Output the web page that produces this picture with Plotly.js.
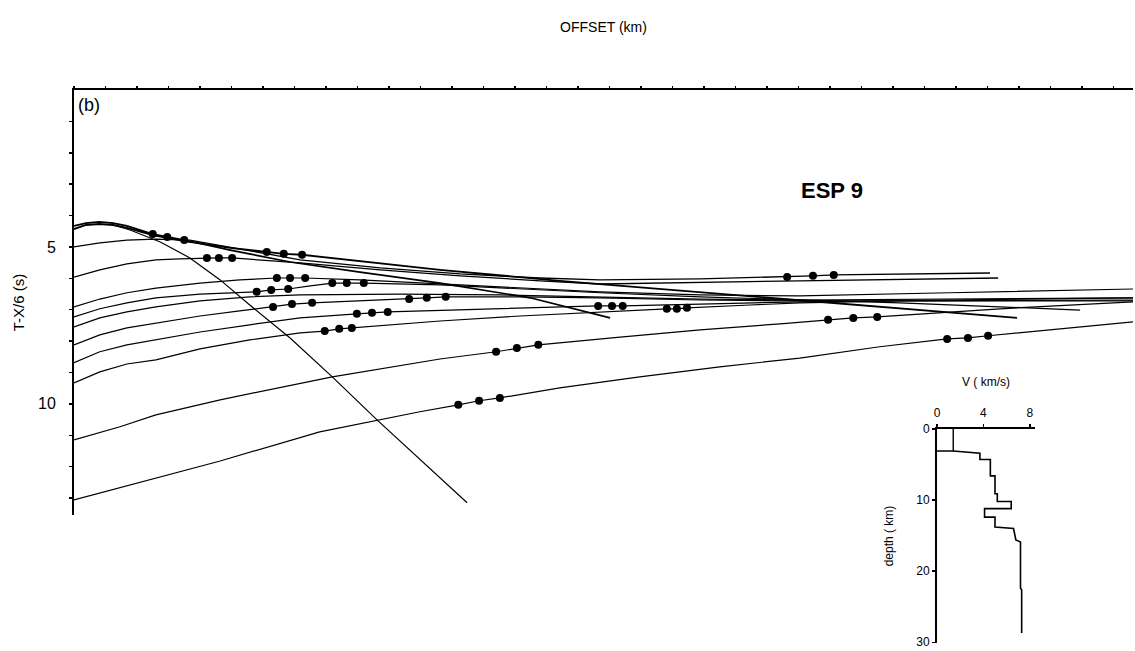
<!DOCTYPE html>
<html>
<head>
<meta charset="utf-8">
<script src="https://cdn.plot.ly/plotly-3.0.1.min.js"></script>
<style>html,body{margin:0;padding:0;background:#fff;}#chart{width:1135px;height:651px;}</style>
</head>
<body>
<div id="chart"></div>
<script>
// ---- Travel-time curves: offset (km) and reduced time T-X/6 (s) ----
const directX = [5.7, 8.9, 13.7, 18.4, 23.2, 27.9, 34.3, 41.0, 48.1, 62.4];
const directT = [4.27, 4.46, 4.84, 5.35, 6.05, 6.85, 7.90, 9.14, 10.51, 13.15];

const humpAX = [0, 1.9, 4.0, 6.2, 8.4, 10.5, 12.5, 14.8, 17.5, 24.8, 34.3, 45.4, 58.1, 72.4, 85.1];
const humpAT = [4.33, 4.24, 4.20, 4.24, 4.33, 4.46, 4.59, 4.68, 4.78, 5.10, 5.48, 5.80, 6.15, 6.62, 7.26];

const humpBX = [0, 1.9, 4.0, 6.2, 8.4, 10.5, 12.5, 14.8, 17.5, 24.8, 30.6, 33.3, 36.2, 47.0, 58.1, 77.1, 100.5, 124.8, 149.7];
const humpBT = [4.43, 4.30, 4.27, 4.30, 4.39, 4.52, 4.62, 4.71, 4.81, 5.03, 5.16, 5.22, 5.25, 5.48, 5.73, 6.08, 6.46, 6.85, 7.26];

const refl1X = [0, 4.1, 8.4, 13.0, 18.4, 26.3, 35.9, 48.6, 61.3, 74.0, 83.5, 99.4, 113.2, 117.3, 120.6, 145.4];
const refl1T = [5.00, 4.87, 4.78, 4.75, 4.78, 5.06, 5.41, 5.67, 5.86, 5.99, 6.05, 6.02, 5.96, 5.92, 5.89, 5.83];

const refl2X = [0, 4.1, 8.4, 13.0, 16.8, 21.1, 23.0, 25.1, 29.5, 35.9, 48.6, 61.3, 74.0, 83.5, 115.2, 146.7];
const refl2T = [5.96, 5.73, 5.54, 5.41, 5.38, 5.35, 5.35, 5.35, 5.41, 5.51, 5.73, 5.92, 6.08, 6.18, 6.08, 5.99];

const refl3X = [0, 4.1, 8.4, 13.0, 20.0, 26.3, 32.2, 34.3, 36.7, 45.4, 58.1, 70.8, 83.5, 99.4, 115.2, 139.0, 168.1];
const refl3T = [6.91, 6.66, 6.46, 6.31, 6.15, 6.05, 5.99, 5.99, 5.99, 6.05, 6.18, 6.31, 6.43, 6.53, 6.56, 6.46, 6.34];

const refl4X = [0, 4.1, 8.4, 13.0, 20.0, 29.0, 31.3, 34.0, 37.5, 41.0, 43.3, 46.0, 58.1, 70.8, 83.5, 99.4, 115.2, 131.1, 159.7];
const refl4T = [7.23, 6.97, 6.78, 6.62, 6.50, 6.43, 6.37, 6.34, 6.24, 6.15, 6.15, 6.15, 6.21, 6.34, 6.46, 6.59, 6.69, 6.78, 7.01];

const refl5X = [0, 4.1, 8.4, 13.0, 20.0, 27.9, 35.9, 51.7, 67.6, 83.5, 99.4, 115.2, 139.0, 168.1];
const refl5T = [7.55, 7.26, 7.07, 6.91, 6.72, 6.59, 6.53, 6.50, 6.53, 6.59, 6.66, 6.69, 6.66, 6.62];

const refl6X = [0, 4.1, 8.4, 13.0, 20.0, 26.3, 31.6, 34.6, 37.8, 45.4, 53.2, 56.0, 59.0, 70.8, 83.5, 99.4, 115.2, 139.0, 168.1];
const refl6T = [8.12, 7.80, 7.58, 7.42, 7.20, 7.04, 6.91, 6.82, 6.78, 6.72, 6.66, 6.62, 6.59, 6.59, 6.62, 6.69, 6.72, 6.72, 6.72];

const refl7X = [0, 4.1, 8.4, 13.0, 20.0, 27.9, 35.9, 44.9, 47.3, 49.8, 59.7, 70.8, 83.2, 85.4, 87.1, 99.4, 115.2, 139.0, 168.1];
const refl7T = [8.69, 8.34, 8.12, 7.96, 7.71, 7.48, 7.26, 7.13, 7.10, 7.07, 7.01, 6.94, 6.88, 6.88, 6.88, 6.82, 6.75, 6.69, 6.62];

const refl8X = [0, 4.1, 8.4, 13.0, 20.0, 27.9, 35.9, 39.8, 42.1, 44.1, 58.1, 70.8, 83.5, 94.1, 95.7, 97.3, 107.3, 115.2, 131.1, 168.1];
const refl8T = [9.33, 8.98, 8.73, 8.60, 8.25, 7.96, 7.74, 7.68, 7.61, 7.58, 7.36, 7.20, 7.07, 6.97, 6.97, 6.94, 6.85, 6.78, 6.72, 6.69];

const refl9X = [0, 7.3, 13.0, 23.2, 41.0, 50.6, 58.1, 67.0, 70.3, 73.7, 86.7, 99.4, 112.1, 119.7, 123.7, 127.5, 147.0, 168.1];
const refl9T = [11.15, 10.73, 10.35, 9.87, 9.14, 8.82, 8.57, 8.34, 8.22, 8.12, 7.87, 7.64, 7.45, 7.32, 7.26, 7.23, 6.97, 6.75];

const refl10X = [0, 12.1, 23.2, 39.0, 48.1, 54.9, 61.0, 64.3, 67.6, 77.1, 89.8, 102.5, 115.2, 127.9, 138.6, 141.9, 145.1, 156.5, 168.1];
const refl10T = [13.06, 12.42, 11.82, 10.89, 10.51, 10.25, 10.03, 9.90, 9.81, 9.49, 9.14, 8.82, 8.54, 8.18, 7.93, 7.90, 7.83, 7.61, 7.39];

// ---- Observed picks (dots) ----
const pickX = [12.5, 14.8, 17.5, 30.6, 33.3, 36.2, 21.1, 23.0, 25.1, 32.2, 34.3, 36.7,
  41.0, 43.3, 46.0, 29.0, 31.3, 34.0, 31.6, 34.6, 37.8, 53.2, 56.0, 59.0,
  44.9, 47.3, 49.8, 39.8, 42.1, 44.1, 83.2, 85.4, 87.1, 94.1, 95.7, 97.3,
  113.2, 117.3, 120.6, 119.7, 123.7, 127.5, 138.6, 141.9, 145.1, 67.0, 70.3, 73.7,
  61.0, 64.3, 67.6];
const pickT = [4.59, 4.68, 4.78, 5.16, 5.22, 5.25, 5.35, 5.35, 5.35, 5.99, 5.99, 5.99,
  6.15, 6.15, 6.15, 6.43, 6.37, 6.34, 6.91, 6.82, 6.78, 6.66, 6.62, 6.59,
  7.13, 7.10, 7.07, 7.68, 7.61, 7.58, 6.88, 6.88, 6.88, 6.97, 6.97, 6.94,
  5.96, 5.92, 5.89, 7.32, 7.26, 7.23, 7.93, 7.90, 7.83, 8.34, 8.22, 8.12,
  10.03, 9.90, 9.81];

// ---- Axis ticks ----
const timeTicks = [1, 2, 3, 4, 5, 6, 7, 8, 9, 10, 11, 12, 13];
const timeTickText = ['', '', '', '', '5', '', '', '', '', '10', '', '', ''];
const velTicks = [0, 4, 8];
const depthTicks = [0, 10, 20, 30];

// ---- Inset velocity-depth model ----
const waterV = [0, 1.4, 1.4];
const waterDepth = [3.1, 3.1, 0];
const velV = [1.4, 3.7, 3.7, 4.6, 4.6, 5.0, 5.0, 5.2, 5.2, 6.4, 6.4, 4.1, 4.1, 5.0, 5.0, 6.6, 6.8, 7.2, 7.2, 7.3, 7.3];
const velDepth = [3.1, 3.4, 4.3, 4.3, 6.6, 6.6, 9.1, 9.1, 10.2, 10.2, 11.2, 11.2, 12.4, 12.4, 13.8, 14.0, 15.6, 15.9, 22.4, 22.6, 28.7];

const FONT = 'Liberation Sans, Arial, Helvetica, sans-serif';
function line(x, y, w) {
  return {x: x, y: y, type: 'scatter', mode: 'lines', xaxis: 'x', yaxis: 'y',
          line: {color: '#000', width: w}, hoverinfo: 'skip', showlegend: false};
}
const traces = [
  line(directX, directT, 1.2),
  line(humpAX, humpAT, 1.7),
  line(humpBX, humpBT, 1.9),
  line(refl1X, refl1T, 1.3),
  line(refl2X, refl2T, 1.3),
  line(refl3X, refl3T, 1.2),
  line(refl4X, refl4T, 1.2),
  line(refl5X, refl5T, 1.2),
  line(refl6X, refl6T, 1.2),
  line(refl7X, refl7T, 1.2),
  line(refl8X, refl8T, 1.2),
  line(refl9X, refl9T, 1.2),
  line(refl10X, refl10T, 1.2),
  {x: pickX, y: pickT, type: 'scatter', mode: 'markers', xaxis: 'x', yaxis: 'y',
   marker: {color: '#000', size: 8, symbol: 'circle'}, hoverinfo: 'skip', showlegend: false},
  {x: waterV, y: waterDepth, type: 'scatter', mode: 'lines', xaxis: 'x2', yaxis: 'y2',
   line: {color: '#000', width: 1.4}, hoverinfo: 'skip', showlegend: false},
  {x: velV, y: velDepth, type: 'scatter', mode: 'lines', xaxis: 'x2', yaxis: 'y2',
   line: {color: '#000', width: 1.6}, hoverinfo: 'skip', showlegend: false}
];

const W = 1135, H = 651;
const layout = {
  width: W, height: H,
  margin: {l: 0, r: 0, t: 0, b: 0},
  paper_bgcolor: '#fff', plot_bgcolor: 'rgba(0,0,0,0)',
  font: {family: FONT, color: '#000', size: 13},
  showlegend: false,
  xaxis: {
    domain: [74 / W, 1133 / W], range: [0, 168.1], side: 'top', anchor: 'y',
    showline: true, linecolor: '#000', linewidth: 2, mirror: false,
    ticks: 'outside', ticklen: 2, tickwidth: 1.5, tickcolor: '#000', tick0: 0, dtick: 5,
    showticklabels: false, showgrid: false, zeroline: false, automargin: false,
    title: {text: 'OFFSET (km)', font: {size: 14, family: FONT}, standoff: 50}
  },
  yaxis: {
    domain: [1 - 515 / H, 1 - 90 / H], range: [13.54, 0], anchor: 'x',
    showline: true, linecolor: '#000', linewidth: 2,
    ticks: 'outside', ticklen: 3, tickwidth: 1.5, tickcolor: '#000',
    tickmode: 'array', tickvals: timeTicks, ticktext: timeTickText,
    tickfont: {size: 16, family: FONT}, ticklabelstandoff: 10,
    showgrid: false, zeroline: false, automargin: false,
    title: {text: 'T-X/6 (s)', font: {size: 15, family: FONT}, standoff: 10}
  },
  xaxis2: {
    domain: [937 / W, 1035 / W], range: [0, 8.45], side: 'top', anchor: 'y2',
    showline: true, linecolor: '#000', linewidth: 2,
    ticks: 'outside', ticklen: 3, tickwidth: 1.5, tickcolor: '#000',
    tickmode: 'array', tickvals: velTicks, tickfont: {size: 12, family: FONT},
    ticklabelstandoff: 2,
    showgrid: false, zeroline: false, automargin: false,
    title: {text: 'V ( km/s)', font: {size: 12, family: FONT}, standoff: 17}
  },
  yaxis2: {
    domain: [1 - 643 / H, 1 - 429 / H], range: [30.1, 0], anchor: 'x2',
    showline: true, linecolor: '#000', linewidth: 2,
    ticks: 'outside', ticklen: 3, tickwidth: 1.5, tickcolor: '#000',
    tickmode: 'array', tickvals: depthTicks, tickfont: {size: 12, family: FONT},
    showgrid: false, zeroline: false, automargin: false,
    title: {text: 'depth ( km)', font: {size: 12, family: FONT}, standoff: 20}
  },
  annotations: [
    {text: '(b)', xref: 'paper', yref: 'paper', x: 76 / W, y: 1 - 105 / H,
     xanchor: 'left', yanchor: 'middle', showarrow: false, font: {size: 18, family: FONT}},
    {text: '<b>ESP 9</b>', xref: 'paper', yref: 'paper', x: 832 / W, y: 1 - 190 / H,
     xanchor: 'center', yanchor: 'middle', showarrow: false, font: {size: 22, family: FONT}}
  ]
};
Plotly.newPlot('chart', traces, layout, {staticPlot: true, displayModeBar: false});
</script>
</body>
</html>
